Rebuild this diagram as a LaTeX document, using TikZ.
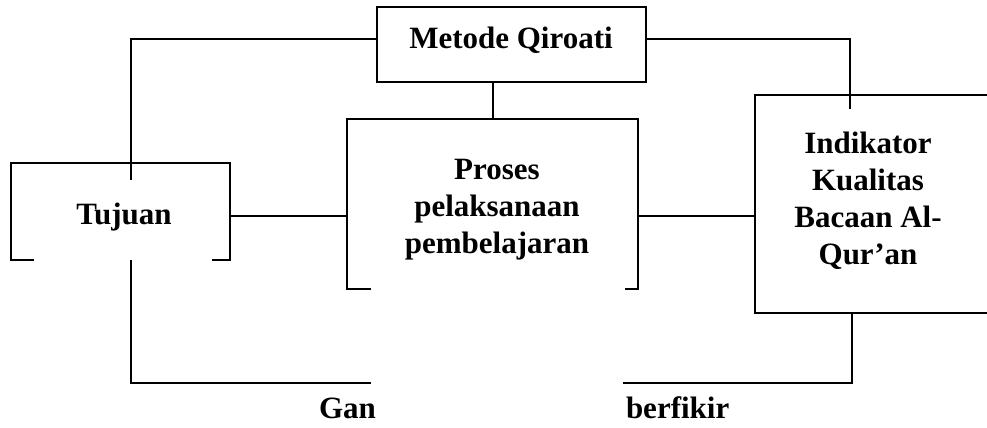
\documentclass[tikz,border=0pt]{standalone}
\usepackage{fontspec}
\setmainfont{Liberation Serif}
\usetikzlibrary{positioning, calc}

\begin{document}
\begin{tikzpicture}[x=0.5pt, y=-0.5pt, line width=1pt,
   every node/.style={font=\bfseries\fontsize{15.5}{18.5}\selectfont},
   box/.style={rectangle, inner sep=0pt},
   txt/.style={align=center, inner sep=0pt}]
   \clip (0,0) rectangle (987,428);

   % Boxes
   \node[box, draw, minimum width=134.5pt, minimum height=37.5pt] (metode) at (511.5,44.5) {};
   \node[box, minimum width=108.5pt, minimum height=47.5pt] (tujuan) at (120.5,211.5) {};
   \node[box, minimum width=144.5pt, minimum height=84pt] (proses) at (492.5,204) {};
   \node[box, minimum width=122pt, minimum height=108pt] (indikator) at (878,204) {};

   % Texts
   \node[txt, anchor=base] (metodeTxt) at (511,48) {Metode Qiroati};
   \node[txt, anchor=base] (tujuanTxt) at (124,224) {Tujuan};
   \node[txt] (prosesTxt) at (497,210) {Proses\\pelaksanaan\\pembelajaran};
   \node[txt] (indikatorTxt) at (868,201) {Indikator\\Kualitas\\Bacaan Al-\\Qur'an};
   \node[txt, anchor=base west] (capL) at (318,418) {Gan};
   \node[txt, anchor=base west] (capR) at (625,418) {berfikir};

   % Open borders
   \draw ([xshift=11.5pt]tujuan.south west) -| (tujuan.north west) -| (tujuan.south east) -- ++(-9pt,0);
   \draw ([xshift=12pt]proses.south west) -| (proses.north west) -| (proses.south east) -- ++(-6.5pt,0);
   \draw (indikator.north east) -| (indikator.south west) -- (indikator.south east);

   % Connectors
   \coordinate (topRow) at (0,39);
   \coordinate (midRow) at (0,215.5);
   \coordinate (botRow) at (0,383);
   \coordinate (tujuanEnd) at (131,180);
   \coordinate (indikatorEnd) at (850,109);
   \coordinate (indikatorFoot) at (852,0);
   \coordinate (gapL) at (371,383);
   \coordinate (gapR) at (623,383);

   \draw (metode.west |- topRow) -| (tujuanEnd);
   \draw (metode.east |- topRow) -| (indikatorEnd);
   \draw (metode.south -| proses.north) -- (proses.north);
   \draw (tujuan.east |- midRow) -- (proses.west |- midRow);
   \draw (proses.east |- midRow) -- (indikator.west |- midRow);
   \draw (tujuanEnd |- tujuan.south) -- (tujuanEnd |- botRow) -- (gapL);
   \draw (gapR) -| (indikator.south -| indikatorFoot);
\end{tikzpicture}
\end{document}
